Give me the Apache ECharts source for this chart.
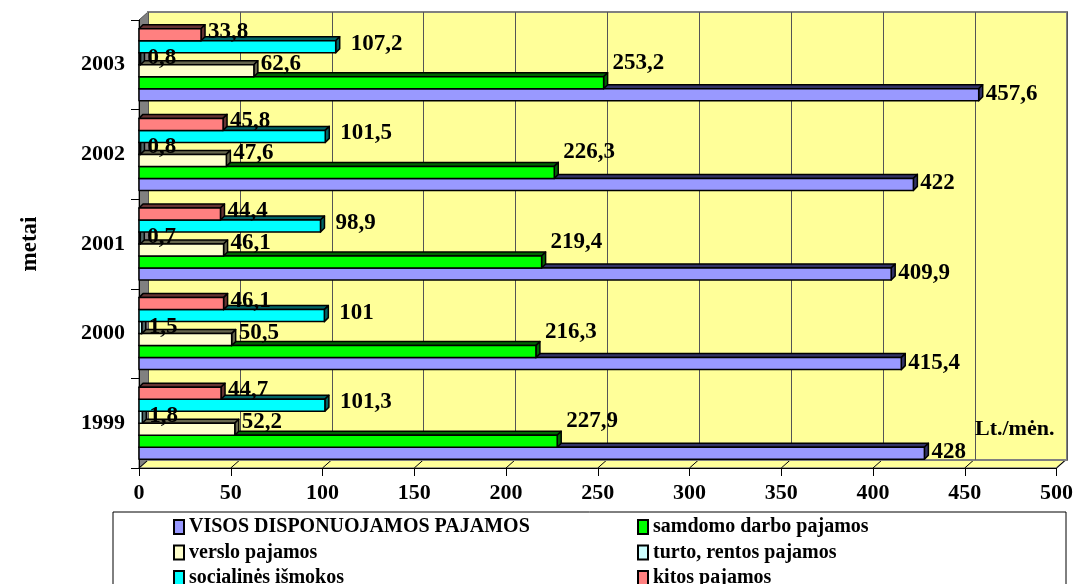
<!DOCTYPE html>
<html>
<head>
<meta charset="utf-8">
<script src="https://cdn.jsdelivr.net/npm/echarts@6/dist/echarts.min.js"></script>
<style>
  html, body { margin: 0; padding: 0; background: #fff; }
  #chart { width: 1076px; height: 584px; }
</style>
</head>
<body>
<div id="chart"></div>
<script>
// metai (apačioje 1999)
const years = ['1999', '2000', '2001', '2002', '2003'];

const visos      = [428, 415.4, 409.9, 422, 457.6];
const samdomo    = [227.9, 216.3, 219.4, 226.3, 253.2];
const verslo     = [52.2, 50.5, 46.1, 47.6, 62.6];
const turto      = [1.8, 1.5, 0.7, 0.8, 0.8];
const socialines = [101.3, 101, 98.9, 101.5, 107.2];
const kitos      = [44.7, 46.1, 44.4, 45.8, 33.8];

const xTicks = [0, 50, 100, 150, 200, 250, 300, 350, 400, 450, 500];

const FONT = '"Liberation Serif", "Times New Roman", serif';

// priekinė ir galinė (3D) plokštuma
const front = { left: 139, right: 18, top: 20, bottom: 116 };
const depth = { dx: 9, dy: 8 };
const BAR_H = 12;   // stulpelio storis
const BAR_D = 4;    // stulpelio 3D gylis

// legendos tvarka = tvarka nuo apačios
const seriesDefs = [
  { name: 'VISOS DISPONUOJAMOS PAJAMOS', data: visos,      color: '#9999FF', dark: '#333366', off: [0, -1] },
  { name: 'samdomo darbo pajamos',       data: samdomo,    color: '#00FF00', dark: '#006600', off: [2, -20] },
  { name: 'verslo pajamos',              data: verslo,     color: '#FFFFCC', dark: '#66664d', off: [0, -7] },
  { name: 'turto, rentos pajamos',       data: turto,      color: '#CCFFFF', dark: '#4d6666', off: [0, -1] },
  { name: 'socialinės išmokos',          data: socialines, color: '#00FFFF', dark: '#006666', off: [8, -3] },
  { name: 'kitos pajamos',               data: kitos,      color: '#FF8080', dark: '#663333', off: [0, -3] }
];

const chart = echarts.init(document.getElementById('chart'));

const fmt = v => String(v).replace('.', ',');

function makeRenderer(def, k) {
  const n = seriesDefs.length;
  return function (params, api) {
    const cat = api.value(0);
    const val = api.value(1);
    const p0 = api.coord([0, cat]);
    const p1 = api.coord([val, cat]);
    const x0 = p0[0], x1 = p1[0];
    const y = p0[1] + n * BAR_H / 2 - (k + 1) * BAR_H;
    const d = BAR_D;
    const stroke = { stroke: '#000', lineWidth: 1.5, lineJoin: 'round' };
    return {
      type: 'group',
      children: [
        {
          type: 'polygon', z2: k * 3,
          shape: { points: [[x0, y], [x0 + d, y - d], [x1 + d, y - d], [x1, y]] },
          style: Object.assign({ fill: def.dark }, stroke)
        },
        {
          type: 'polygon', z2: k * 3,
          shape: { points: [[x1, y], [x1 + d, y - d], [x1 + d, y + BAR_H - d], [x1, y + BAR_H]] },
          style: Object.assign({ fill: def.dark }, stroke)
        },
        {
          type: 'rect', z2: k * 3 + 1,
          shape: { x: x0, y: y, width: x1 - x0, height: BAR_H },
          style: Object.assign({ fill: def.color }, stroke)
        },
        {
          type: 'text', z2: 100,
          x: x1 + d + 3 + def.off[0], y: y + BAR_H / 2 + def.off[1],
          style: {
            text: fmt(val), font: 'bold 23px ' + FONT, fill: '#000',
            verticalAlign: 'middle', align: 'left'
          }
        }
      ]
    };
  };
}

const legendBase = {
  orient: 'vertical', top: 517, itemGap: 5.5, padding: 0, height: 80,
  itemWidth: 10, itemHeight: 14, icon: 'rect',
  itemStyle: { borderColor: '#000', borderWidth: 2 },
  textStyle: { fontFamily: FONT, fontWeight: 'bold', fontSize: 20, color: '#000' }
};

const option = {
  backgroundColor: '#ffffff',
  animation: false,
  grid: [
    { left: front.left, right: front.right, top: front.top, bottom: front.bottom },
    {
      left: front.left + depth.dx, right: front.right - depth.dx,
      top: front.top - depth.dy, bottom: front.bottom + depth.dy,
      show: true, backgroundColor: '#FFFF99', borderColor: '#808080', borderWidth: 2
    }
  ],
  xAxis: [
    {
      gridIndex: 0, type: 'value', min: 0, max: 500, interval: 50,
      axisLine: { show: true, lineStyle: { color: '#000', width: 1 } },
      axisTick: { show: true, length: 8, lineStyle: { color: '#000' } },
      axisLabel: {
        margin: 14, fontFamily: FONT, fontWeight: 'bold', fontSize: 22, color: '#000',
        formatter: v => xTicks.includes(v) ? String(v) : ''
      },
      splitLine: { show: false }
    },
    {
      gridIndex: 1, type: 'value', min: 0, max: 500, interval: 50,
      axisLine: { show: false }, axisTick: { show: false }, axisLabel: { show: false },
      splitLine: { show: true, lineStyle: { color: '#555', width: 1 } }
    }
  ],
  yAxis: [
    {
      gridIndex: 0, type: 'category', data: years,
      axisLine: { show: true, lineStyle: { color: '#000', width: 1 } },
      axisTick: { show: true, length: 8, lineStyle: { color: '#000' } },
      axisLabel: { margin: 14, fontFamily: FONT, fontWeight: 'bold', fontSize: 22, color: '#000' },
      name: 'metai', nameLocation: 'middle', nameRotate: 90, nameGap: 97,
      nameTextStyle: { fontFamily: FONT, fontWeight: 'bold', fontSize: 23, color: '#000' }
    },
    {
      gridIndex: 1, type: 'category', data: years,
      axisLine: { show: false }, axisTick: { show: false }, axisLabel: { show: false }
    }
  ],
  legend: [
    Object.assign({}, legendBase, {
      left: 173, data: [seriesDefs[0].name, seriesDefs[2].name, seriesDefs[4].name]
    }),
    Object.assign({}, legendBase, {
      left: 637, data: [seriesDefs[1].name, seriesDefs[3].name, seriesDefs[5].name]
    })
  ],
  series: seriesDefs.map((s, k) => ({
    name: s.name,
    type: 'custom',
    xAxisIndex: 0, yAxisIndex: 0,
    encode: { x: 1, y: 0 },
    data: s.data.map((v, i) => [i, v]),
    itemStyle: { color: s.color },
    renderItem: makeRenderer(s, k),
    clip: false,
    silent: true
  }))
};

chart.setOption(option);

// šoninė siena, grindys, legendos rėmelis ir vienetai
function decorate() {
  const x0 = chart.convertToPixel({ xAxisIndex: 0 }, 0);
  const x1 = chart.convertToPixel({ xAxisIndex: 0 }, 500);
  const yTop = front.top;
  const yBot = 584 - front.bottom;
  const dx = depth.dx, dy = depth.dy;

  const graphics = [
    {
      type: 'polygon', z: -5, silent: true,
      shape: { points: [[x0, yTop], [x0 + dx, yTop - dy], [x0 + dx, yBot - dy], [x0, yBot]] },
      style: { fill: '#808080', stroke: '#555', lineWidth: 1 }
    },
    {
      type: 'polygon', z: -5, silent: true,
      shape: { points: [[x0, yBot], [x0 + dx, yBot - dy], [x1 + dx, yBot - dy], [x1, yBot]] },
      style: { fill: '#FFFF99', stroke: '#808080', lineWidth: 1.5 }
    },
    {
      type: 'rect', silent: true,
      shape: { x: 113, y: 512, width: 953, height: 80 },
      style: { fill: '#fff', stroke: '#000', lineWidth: 1 }, z: -5
    },
    {
      type: 'text', silent: true, left: 975, top: 418,
      style: { text: 'Lt./mėn.', font: 'bold 22px ' + FONT, fill: '#000' }
    }
  ];
  xTicks.forEach(v => {
    const x = chart.convertToPixel({ xAxisIndex: 0 }, v);
    graphics.push({
      type: 'line', silent: true, z: -4,
      shape: { x1: x, y1: yBot, x2: x + dx, y2: yBot - dy },
      style: { stroke: '#000', lineWidth: 1 }
    });
  });
  chart.setOption({ graphic: graphics });
}
decorate();
</script>
</body>
</html>
